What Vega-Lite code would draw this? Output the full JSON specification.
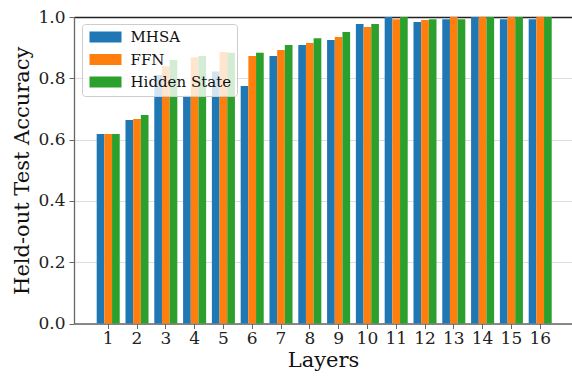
{
  "$schema": "https://vega.github.io/schema/vega-lite/v6.json",
  "width": 498,
  "height": 306.5,
  "autosize": "none",
  "padding": {"left": 74, "top": 17, "right": 0, "bottom": 52.5},
  "background": "white",
  "config": {
    "font": "DejaVu Serif",
    "view": {"stroke": null},
    "axis": {
      "labelFont": "DejaVu Serif",
      "labelFontSize": 17,
      "labelColor": "#222",
      "titleFont": "DejaVu Serif",
      "titleFontSize": 21,
      "titleFontWeight": "normal",
      "titleColor": "#111",
      "domainColor": "#666",
      "domainWidth": 1.3,
      "tickColor": "#666",
      "tickSize": 5,
      "tickWidth": 1
    },
    "legend": {
      "labelFont": "DejaVu Serif",
      "labelFontSize": 15,
      "labelColor": "#111"
    }
  },
  "data": {
    "values": [
      {"layer": 1, "series": "MHSA", "acc": 0.618},
      {"layer": 1, "series": "FFN", "acc": 0.618},
      {"layer": 1, "series": "Hidden State", "acc": 0.618},
      {"layer": 2, "series": "MHSA", "acc": 0.664},
      {"layer": 2, "series": "FFN", "acc": 0.667},
      {"layer": 2, "series": "Hidden State", "acc": 0.680},
      {"layer": 3, "series": "MHSA", "acc": 0.811},
      {"layer": 3, "series": "FFN", "acc": 0.839},
      {"layer": 3, "series": "Hidden State", "acc": 0.860},
      {"layer": 4, "series": "MHSA", "acc": 0.743},
      {"layer": 4, "series": "FFN", "acc": 0.869},
      {"layer": 4, "series": "Hidden State", "acc": 0.873},
      {"layer": 5, "series": "MHSA", "acc": 0.822},
      {"layer": 5, "series": "FFN", "acc": 0.886},
      {"layer": 5, "series": "Hidden State", "acc": 0.883},
      {"layer": 6, "series": "MHSA", "acc": 0.775},
      {"layer": 6, "series": "FFN", "acc": 0.873},
      {"layer": 6, "series": "Hidden State", "acc": 0.883},
      {"layer": 7, "series": "MHSA", "acc": 0.873},
      {"layer": 7, "series": "FFN", "acc": 0.892},
      {"layer": 7, "series": "Hidden State", "acc": 0.909},
      {"layer": 8, "series": "MHSA", "acc": 0.909},
      {"layer": 8, "series": "FFN", "acc": 0.915},
      {"layer": 8, "series": "Hidden State", "acc": 0.931},
      {"layer": 9, "series": "MHSA", "acc": 0.925},
      {"layer": 9, "series": "FFN", "acc": 0.935},
      {"layer": 9, "series": "Hidden State", "acc": 0.951},
      {"layer": 10, "series": "MHSA", "acc": 0.977},
      {"layer": 10, "series": "FFN", "acc": 0.967},
      {"layer": 10, "series": "Hidden State", "acc": 0.977},
      {"layer": 11, "series": "MHSA", "acc": 1.0},
      {"layer": 11, "series": "FFN", "acc": 0.993},
      {"layer": 11, "series": "Hidden State", "acc": 1.0},
      {"layer": 12, "series": "MHSA", "acc": 0.984},
      {"layer": 12, "series": "FFN", "acc": 0.990},
      {"layer": 12, "series": "Hidden State", "acc": 0.993},
      {"layer": 13, "series": "MHSA", "acc": 0.993},
      {"layer": 13, "series": "FFN", "acc": 1.0},
      {"layer": 13, "series": "Hidden State", "acc": 0.993},
      {"layer": 14, "series": "MHSA", "acc": 1.0},
      {"layer": 14, "series": "FFN", "acc": 1.0},
      {"layer": 14, "series": "Hidden State", "acc": 1.0},
      {"layer": 15, "series": "MHSA", "acc": 0.993},
      {"layer": 15, "series": "FFN", "acc": 1.0},
      {"layer": 15, "series": "Hidden State", "acc": 1.0},
      {"layer": 16, "series": "MHSA", "acc": 0.993},
      {"layer": 16, "series": "FFN", "acc": 1.0},
      {"layer": 16, "series": "Hidden State", "acc": 1.0}
    ]
  },
  "mark": {"type": "bar"},
  "encoding": {
    "x": {
      "field": "layer",
      "type": "ordinal",
      "scale": {"paddingInner": 0.2, "paddingOuter": 0.746, "align": 0.528},
      "axis": {"title": "Layers", "labelAngle": 0, "labelPadding": 2, "titlePadding": 3}
    },
    "xOffset": {
      "field": "series",
      "type": "nominal",
      "sort": ["MHSA", "FFN", "Hidden State"],
      "scale": {"paddingInner": 0, "paddingOuter": 0}
    },
    "y": {
      "field": "acc",
      "type": "quantitative",
      "scale": {"domain": [0, 1], "nice": false},
      "axis": {
        "title": "Held-out Test Accuracy",
        "values": [0, 0.2, 0.4, 0.6, 0.8, 1.0],
        "format": ".1f",
        "grid": true,
        "gridColor": {"condition": {"test": "datum.value >= 0.999", "value": "#222"}, "value": "#dddddd"},
        "gridWidth": {"condition": {"test": "datum.value >= 0.999", "value": 1.3}, "value": 1},
        "labelPadding": 4,
        "titlePadding": 5
      }
    },
    "color": {
      "field": "series",
      "type": "nominal",
      "sort": ["MHSA", "FFN", "Hidden State"],
      "scale": {"domain": ["MHSA", "FFN", "Hidden State"], "range": ["#1f77b4", "#ff7f0e", "#2ca02c"]},
      "legend": {
        "title": null,
        "orient": "none",
        "legendX": 8,
        "legendY": 7,
        "symbolType": "M-1,-1H4.82V1H-1Z",
        "symbolSize": 121,
        "symbolStrokeWidth": 0,
        "symbolOpacity": 1,
        "labelOffset": 28,
        "rowPadding": 6.5,
        "padding": 5.5,
        "fillColor": "rgba(255,255,255,0.8)",
        "strokeColor": "#cccccc",
        "cornerRadius": 3
      }
    }
  }
}
